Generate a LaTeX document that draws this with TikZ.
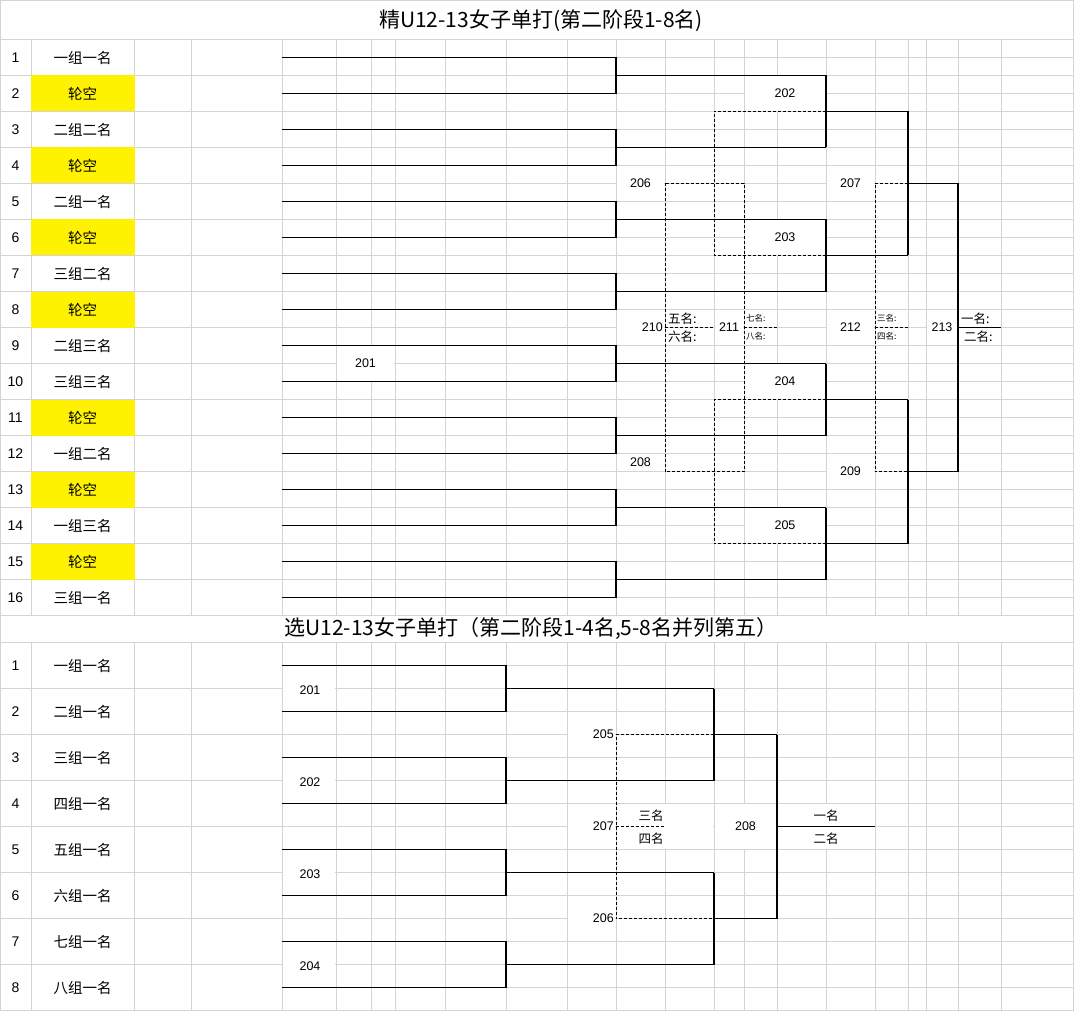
\documentclass[tikz,border=0pt]{standalone}
\usepackage{fontspec}
\setmainfont{Liberation Sans}
\newfontfamily\cjk{Noto Sans CJK SC}
\usetikzlibrary{positioning}
\definecolor{gridgray}{HTML}{D4D4D4}
\tikzset{
  g/.style={draw=gridgray,line width=1pt},
  br/.style={line width=1.1pt},
  ds/.style={line width=1pt,dash pattern=on 3pt off 2pt},
  lb/.style={inner sep=0pt,font=\fontsize{12.5}{14}\selectfont},
  nm/.style={inner sep=0pt,font=\cjk\fontsize{14.5}{16}\selectfont},
  rk/.style={inner sep=0pt,font=\cjk\fontsize{12.5}{14}\selectfont},
  tiny/.style={inner sep=0pt,font=\cjk\fontsize{8.5}{9}\selectfont},
  ttl/.style={inner sep=0pt,font=\cjk\fontsize{21}{23}\selectfont}
}
\begin{document}
\begin{tikzpicture}[x=1pt,y=-1pt]
  \useasboundingbox (0,0) rectangle (1074,1011);

  % sheet grid
  \draw[g] (0.5,0.5) rectangle (1073.5,1010.5);
  \foreach \x in {31,134,191,282,336,371,395,445,506,567,616,665,714,744,777,826,875,908,926,958,1001}
    \draw[g] (\x,39.5) -- (\x,615.5) (\x,642.5) -- (\x,1010.5);
  \foreach \k in {0,...,16}
    \draw[g] (0.5,{39.5+36*\k}) -- (282,{39.5+36*\k});
  \foreach \k in {0,...,32}
    \draw[g] (282,{39.5+18*\k}) -- (1073.5,{39.5+18*\k});
  \foreach \k in {0,...,8}
    \draw[g] (0.5,{642.5+46*\k}) -- (282,{642.5+46*\k});
  \foreach \k in {0,...,16}
    \draw[g] (282,{642.5+23*\k}) -- (1073.5,{642.5+23*\k});

  % merged cells
  \foreach \a/\b/\c/\d in {336/345.5/395/381.5, 744/75.5/826/111.5, 744/219.5/826/255.5,
      744/363.5/826/399.5, 744/507.5/826/543.5, 616/165.5/665/201.5, 826/165.5/875/201.5,
      826/453.5/875/489.5, 616/309.5/665/345.5, 714/309.5/744/345.5, 826/309.5/875/345.5,
      926/309.5/958/345.5, 282/665.5/336/711.5, 282/757.5/336/803.5, 282/849.5/336/895.5,
      282/941.5/336/987.5, 567/711.5/616/757.5, 567/803.5/616/849.5, 567/895.5/616/941.5,
      616/803.5/714/849.5, 714/803.5/777/849.5, 777/803.5/875/849.5}
    \fill[white] ({\a+.6},{\b+.6}) rectangle ({\c-.6},{\d-.6});
  \foreach \r in {2,4,6,8,11,13,15}
    \fill[yellow] (30.5,{3.5+36*\r}) rectangle (134.5,{39.5+36*\r});

  % titles
  \node[ttl] (title1) at (541,21) {精U12-13女子单打(第二阶段1-8名)};
  \node[ttl] (title2) at (531,629) {选U12-13女子单打（第二阶段1-4名,5-8名并列第五）};

  % entries
  \foreach \r/\n in {1/一组一名,2/轮空,3/二组二名,4/轮空,5/二组一名,6/轮空,7/三组二名,8/轮空,
      9/二组三名,10/三组三名,11/轮空,12/一组二名,13/轮空,14/一组三名,15/轮空,16/三组一名}{
    \node[lb,font=\fontsize{14}{16}\selectfont] (a\r) at (15.5,{21.5+36*\r}) {\r};
    \node[nm] (p\r) at (82.5,{21.5+36*\r}) {\n};
  }
  \foreach \r/\n in {1/一组一名,2/二组一名,3/三组一名,4/四组一名,5/五组一名,6/六组一名,7/七组一名,8/八组一名}{
    \node[lb,font=\fontsize{14}{16}\selectfont] (b\r) at (15.5,{619.5+46*\r}) {\r};
    \node[nm] (q\r) at (82.5,{619.5+46*\r}) {\n};
  }

  % upper draw
  \foreach \i in {1,...,8}
    \draw[br] (282,{72*\i-14.5}) -- (616,{72*\i-14.5}) -- (616,{72*\i+21.5}) -- (282,{72*\i+21.5})
      (616,{72*\i+3.5}) -- (826,{72*\i+3.5});
  \foreach \j in {1,...,4}{
    \draw[br] (826,{144*\j-68.5}) -- (826,{144*\j+3.5}) (826,{144*\j-32.5}) -- (908,{144*\j-32.5});
    \pgfmathtruncatemacro\m{201+\j}
    \node[lb] (m\m) at (785,{144*\j-50.5}) {\m};
  }
  \draw[br] (908,111.5) -- (908,255.5) (908,399.5) -- (908,543.5)
    (908,183.5) -- (958,183.5) -- (958,471.5) -- (908,471.5)
    (958,327.5) -- (1001,327.5);
  \draw[ds] (826,111.5) -- (714,111.5) -- (714,255.5) -- (826,255.5)
    (826,399.5) -- (714,399.5) -- (714,543.5) -- (826,543.5)
    (665,183.5) rectangle (744,471.5)
    (665,327.5) -- (714,327.5) (744,327.5) -- (777,327.5)
    (908,183.5) -- (875,183.5) -- (875,471.5) -- (908,471.5)
    (875,327.5) -- (908,327.5);

  \path
    (365.5,363.5) node[lb] (m201) {201}
    (640.5,183.5) node[lb] (m206) {206}
    (850.5,183.5) node[lb] (m207) {207}
    (640.5,462.5) node[lb] (m208) {208}
    (850.5,471.5) node[lb] (m209) {209}
    (663,327.5)   node[lb,anchor=east] (m210) {210}
    (729,327.5)   node[lb] (m211) {211}
    (850.5,327.5) node[lb] (m212) {212}
    (942,327.5)   node[lb] (m213) {213};
  \path[anchor=west]
    (668,318.5) node[rk] (r5) {五名:}
    (668,336.5) node[rk] (r6) {六名:}
    (746,318.5) node[tiny] (r7) {七名:}
    (746,336.5) node[tiny] (r8) {八名:}
    (877,318.5) node[tiny] (r3) {三名:}
    (877,336.5) node[tiny] (r4) {四名:}
    (961,318.5) node[rk] (r1) {一名:}
    (964,336.5) node[rk] (r2) {二名:};

  % lower draw
  \foreach \i in {1,...,4}{
    \draw[br] (282,{92*\i+573.5}) -- (506,{92*\i+573.5}) -- (506,{92*\i+619.5}) -- (282,{92*\i+619.5})
      (506,{92*\i+596.5}) -- (714,{92*\i+596.5});
    \pgfmathtruncatemacro\m{200+\i}
    \node[lb] (k\m) at (310,{92*\i+598}) {\m};
  }
  \foreach \j in {1,2}
    \draw[br] (714,{184*\j+504.5}) -- (714,{184*\j+596.5}) (714,{184*\j+550.5}) -- (777,{184*\j+550.5});
  \draw[br] (777,734.5) -- (777,918.5) (777,826.5) -- (875,826.5);
  \draw[ds] (714,734.5) -- (616,734.5) -- (616,918.5) -- (714,918.5)
    (616,826.5) -- (665,826.5);

  \path[anchor=east]
    (614,734.5) node[lb] (k205) {205}
    (614,826.5) node[lb] (k207) {207}
    (614,918.5) node[lb] (k206) {206};
  \path
    (745.5,826.5) node[lb] (k208) {208}
    (651,815.5) node[rk] (s3) {三名}
    (651,838.5) node[rk] (s4) {四名}
    (826,815.5) node[rk] (s1) {一名}
    (826,838.5) node[rk] (s2) {二名};
\end{tikzpicture}
\end{document}
